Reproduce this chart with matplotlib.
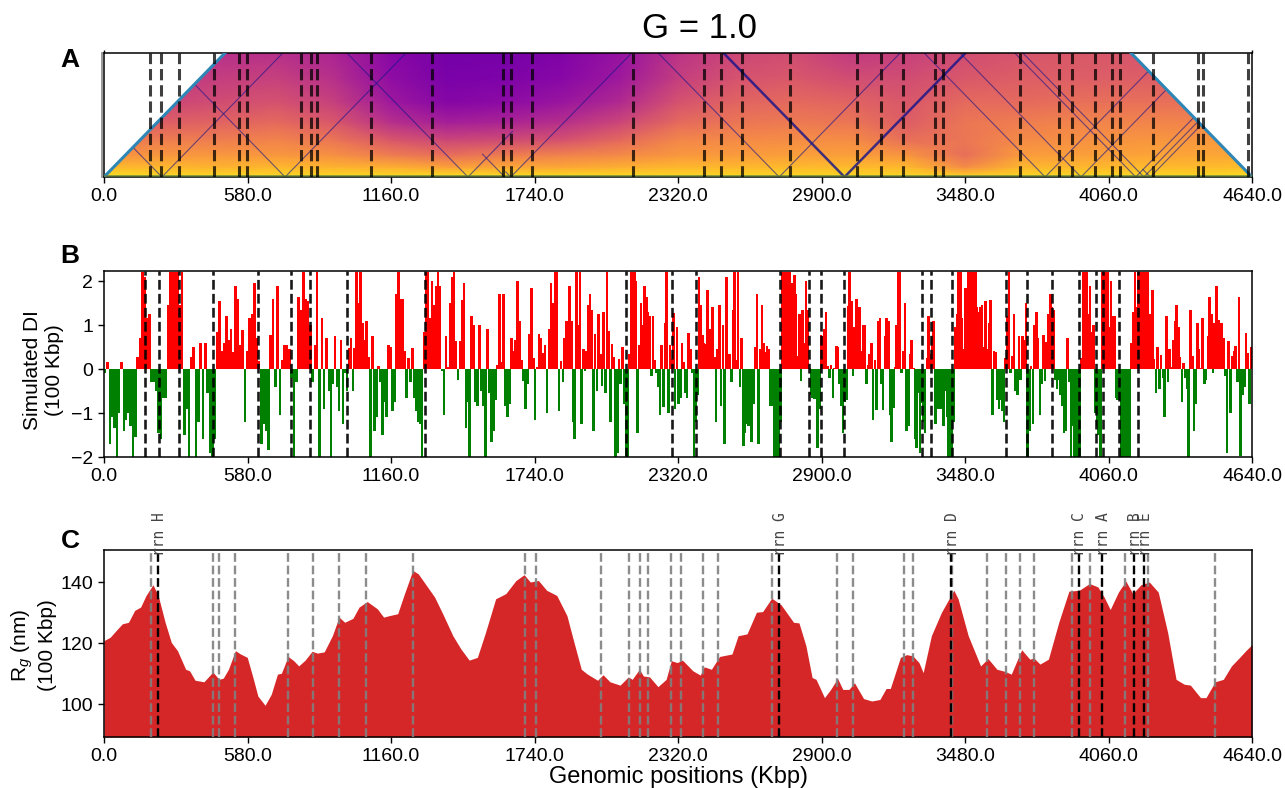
import numpy as np
import matplotlib
matplotlib.use('Agg')
import matplotlib.pyplot as plt
from matplotlib.patches import Polygon

plt.rcParams['font.family'] = ['Liberation Sans', 'DejaVu Sans']
plt.rcParams['mathtext.fontset'] = 'custom'
plt.rcParams['mathtext.rm'] = 'Liberation Sans'
plt.rcParams['mathtext.it'] = 'Liberation Sans:italic'

GENOME = 4640.0
xticks = [0, 580, 1160, 1740, 2320, 2900, 3480, 4060, 4640]
xticklabels = ['0.0', '580.0', '1160.0', '1740.0', '2320.0', '2900.0', '3480.0', '4060.0', '4640.0']

# ---------- Panel A: coarse estimate of the contact map ----------
map_x = [0, 232, 464, 696, 928, 1160, 1392, 1624, 1856, 2088, 2320, 2552, 2784, 3016, 3248, 3480, 3712, 3944, 4176, 4408, 4640]
map_y = [0, 12, 40, 85, 145, 215, 295, 390, 489]
map_v = [
 [.98,.98,.98,.98,.98,.98,.98,.98,.98,.98,.98,.98,.98,.98,.98,.98,.98,.98,.98,.98,.98],
 [.92,.90,.90,.90,.90,.90,.90,.90,.90,.90,.90,.90,.90,.90,.90,.86,.90,.90,.90,.90,.92],
 [.84,.84,.83,.84,.83,.82,.78,.80,.80,.82,.84,.84,.85,.85,.84,.72,.84,.84,.85,.85,.86],
 [.74,.76,.76,.76,.74,.68,.64,.68,.70,.72,.76,.77,.78,.78,.75,.64,.77,.78,.79,.80,.80],
 [.66,.68,.68,.70,.66,.56,.50,.52,.54,.62,.71,.72,.73,.73,.64,.66,.72,.74,.75,.76,.76],
 [.56,.58,.60,.62,.56,.42,.36,.38,.42,.50,.62,.66,.67,.66,.58,.66,.68,.70,.70,.70,.70],
 [.50,.50,.52,.54,.48,.34,.27,.29,.33,.40,.54,.60,.62,.60,.56,.62,.62,.64,.64,.64,.64],
 [.45,.45,.47,.48,.42,.30,.24,.25,.28,.34,.47,.54,.56,.52,.52,.56,.58,.58,.58,.58,.58],
 [.42,.42,.42,.42,.38,.28,.23,.23,.26,.32,.43,.50,.52,.46,.48,.52,.55,.56,.55,.55,.55],
]
map_top = 489.0
map_dashes = [186, 232, 303, 445, 547, 577, 796, 836, 862, 1080, 1326, 1614, 1644, 1731, 2137,
              2426, 2493, 2579, 2774, 3043, 3139, 3231, 3359, 3390, 3703, 3861, 3914, 4007, 4075,
              4107, 4238, 4422, 4441, 4625]
fold_base = [234, 732, 1471, 1620, 1644, 2729, 2993, 3804, 3949, 4170, 4203, 4229]
fold_left = [489, 489, 489, 90, 20, 489, 489, 489, 489, 489, 489, 30]
fold_right = [489, 489, 180, 0, 489, 489, 489, 489, 489, 489, 489, 489]
fold_lw = [.8, .8, .8, .8, .8, .8, 1.8, .8, .8, .8, .8, .8]

# ---------- Panel B: directionality index, one list per stretch of genome ----------
di_bounds = [0.0, 913.5, 1851.0, 2773.0, 3702.0, 4640.0]
di_1 = [-.1,.15,-1.7,-1.1,-1.35,-2,-1.0,.17,-1.4,-1.15,
 -1.0,-1.3,-2,-1.55,.28,.7,2.2,2.1,1.15,1.25,
 -.3,-.3,-.5,-1.45,-1.6,-.65,-.65,1.45,2.2,2.2,
 2.2,2.2,1.45,2.2,-1.5,-.9,-2,.27,.5,-2,
 -1.2,.6,-1.6,.6,-.55,-1.9,-2,-1.6,.85,1.55,
 .42,.6,1.2,.65,.9,.38,1.9,1.6,.55,.88,
 -1.2,.42,1.15,1.25,1.95,.7,.18,-1.7,-1.25,-1.4,
 -1.85,.78,1.6,-.4,1.9,-1.05,.2,.55,.55,.45,
 -.2,-2,-.3,1.65,1.35,2.2,1.6,1.55,1.0,-.3,
 .55,2.2,-2,1.15,-.9,.7,-.5]
di_2 = [-2,-.35,.75,-.4,-.95,.65,-1.25,-.1,-.5,.48,.7,-.5,.47,2.2,1.5,2.2,1.05,.65,1.1,.27,
 -2,.75,-1.4,-1.1,.08,-.3,-1.5,-.75,-1.1,.55,.5,-.95,-.75,1.7,2.2,1.6,1.6,.4,-.65,.25,
 -.3,.47,-.65,-.95,-1.2,-1.25,-2,.85,2.2,2.2,1.15,2.0,1.45,1.9,2.2,1.9,-.05,-1.05,.75,.05,
 1.5,2.1,2.2,.63,-.25,.63,1.57,1.95,-1.35,-.75,-2,1.2,1.0,-.75,-.85,1.0,-.5,-.85,-2,.9,
 -.55,-1.65,-1.4,-.7,.1,1.7,.15,1.7,-.85,-1.1,-.8,.7,.4,.65,2.0,1.1,.2,-.27,-.9,-.35,
 .8,1.85,.25,-1.15,.05,.8,.7,.37,.55,-1.0,.9,1.95,1.5,2.2,2.2,-.95,.18]
di_3 = [-.3,.7,1.1,.75,1.9,1.1,-1.2,-1.6,2.2,1.0,2.2,-1.25,.45,-.05,.42,1.45,1.7,1.35,-1.4,.8,
 -.5,1.25,.35,-.38,1.3,-.55,2.2,.87,-1.2,.58,.28,-2,-1.9,.22,-.35,.5,-.8,-2,-2,.35,
 2.2,2.2,2.2,2.0,-1.45,.55,1.5,1.0,1.9,1.65,1.3,1.2,-.15,1.2,.2,-.1,-.4,-1.05,.55,-.87,
 1.05,2.2,-1.0,.55,.22,1.28,-.9,.95,-.8,-.65,.6,.15,-.55,-.65,.82,.45,-.1,-2,-1.2,-.6,
 2.1,1.45,.78,.6,.58,1.8,.9,.9,1.4,.27,-1.2,.45,1.45,-.85,1.0,-1.7,2.1,.1,.35,-.3,
 1.35,2.2,.2,2.2,-.4,.7,-1.75,-1.45,-1.25,-1.3,-.75,-1.65,-.8,.5,1.7,-1.7,.45,1.45,.6,.38,
 .53,.45,-.85,-.85,-2,-2,-2,-2,-1.2,2.2,2.2,2.2,2.2,2.2]
di_4 = [1.8,1.95,2.15,1.7,.3,1.25,-.27,1.35,.6,2.0,1.35,.02,-.6,-.65,-.67,-.3,-1.8,-.9,.78,.75,
 .9,1.3,.08,-.2,.1,-.65,.02,.52,.5,-.35,-.85,-1.45,-.75,-.7,1.43,2.2,1.55,-.15,.95,1.6,
 .3,1.4,.4,1.0,1.0,-.35,.1,.35,.6,-1.15,.2,-.93,1.1,1.15,-.35,-.93,.75,1.15,1.1,-1.05,
 -1.65,-.88,.05,1.0,2.2,2.2,-.1,.4,1.5,-1.4,-1.3,.35,.67,.02,-1.6,-1.8,-.55,-1.9,-.78,-1.2,
 -1.45,.25,1.2,.35,.7,1.1,-1.25,-.9,-.9,-.9,-.9,-1.3,-.5,-1.1,-2,-2,-2,-1.2,.95,1.25,
 2.2,2.2,1.15,.45,1.85,1.55,2.2,2.2,1.6,2.2,2.2,1.4,1.3,1.4,1.45,.5,1.55,.45,1.05,1.57,
 -1.05,.4,.38,-.7,-.9,-.7,-.95,-1.2,.25,1.2,2.2,-.1,.3,1.25,-.5,-.6,.75]
di_5 = [-.25,.75,.65,1.5,-2,-1.4,.07,-1.25,1.0,1.3,.7,-1.05,-.35,.78,-.27,.62,1.25,1.7,1.4,1.35,
 -.25,-.45,-.25,-.6,-.85,-1.45,-1.4,.7,-.3,-2,-1.3,-2,-2,-1.35,-2,.25,2.2,2.2,2.2,1.25,
 1.9,.85,1.0,-1.0,-1.3,-1.5,-2,2.2,2.2,2.2,2.2,.95,2.0,1.2,1.2,-.65,-.7,-.7,-2,-2,
 -2,-2,-2,-2,.6,1.3,2.2,1.4,2.2,2.2,2.2,2.2,2.2,2.2,1.2,1.25,1.8,.22,-.55,.5,
 -.45,.33,-.2,-1.1,1.2,-.3,.45,.05,.65,1.1,1.45,.95,.28,-.75,.13,-.2,-.45,-2,1.35,.3,
 -1.4,-.8,1.05,.45,.02,1.15,-.35,-.25,.75,1.65,1.25,-.1,1.05,1.9,1.12,.55,1.05,.7,-.15,-1.9,
 .63,-1.0,.3,.42,.53,-.3,1.65,-1.98,-.6,-.4,.83,.37,-.8,.5]
di_dashes = [166, 221, 302, 441, 621, 757, 831, 982, 1299, 2111, 2297, 2392, 2732, 2851, 2897,
             2992, 3307, 3342, 3428, 3647, 3731, 3833, 3942, 4008, 4037, 4103, 4178]

# ---------- Panel C: radius of gyration ----------
rg_x = [0,25,49,74,99,124,148,170,198,219,247,272,297,330,346,368,404,440,465,482,503,531,552,579,602,622,651,676,701,717,
 744,767,787,813,841,862,890,923,950,973,1006,1031,1064,1105,1130,1154,1187,1212,1248,1270,1303,1336,1369,1410,1443,1476,
 1509,1542,1583,1624,1665,1698,1723,1756,1789,1830,1871,1896,1929,1954,1995,2017,2045,2086,2119,2135,2164,2180,2205,2239,
 2272,2293,2317,2338,2380,2410,2426,2455,2488,2538,2563,2599,2637,2662,2699,2737,2787,2809,2837,2862,2878,2912,2937,2965,
 2986,3011,3033,3070,3103,3136,3161,3178,3219,3244,3269,3294,3311,3344,3385,3435,3452,3493,3543,3573,3609,3642,3667,3709,
 3742,3758,3783,3817,3859,3900,3942,3983,4017,4042,4067,4100,4130,4158,4191,4225,4261,4299,4333,4366,4391,4432,4454,4491,
 4524,4557,4590,4615,4640]
rg_y = [120.8,121.9,124.1,126.3,126.8,130.7,131.8,135.6,139.1,135.6,126.8,120.2,117.5,111.4,110.9,107.8,107.3,110.5,108.1,108.5,
 111.4,117.5,116.4,115.3,108.7,102.6,99.6,103.2,109.8,110.1,115.6,114.2,112.5,114.4,117.3,116.7,117.1,122.4,128.5,126.8,
 128.1,131.8,133.6,131.2,128.5,129.0,129.6,135.6,143.8,142.7,138.9,135.1,129.6,122.4,118.0,114.4,115.3,123.5,134.5,136.2,
 140.5,142.4,140.0,140.5,137.3,135.6,129.0,121.3,111.4,109.8,107.8,109.6,107.3,106.2,108.9,108.1,111.4,109.2,108.9,105.7,
 108.1,114.2,113.6,114.4,110.9,109.5,112.2,111.4,115.6,116.4,122.4,123.0,130.1,130.3,134.7,132.5,126.8,126.6,119.1,108.7,
 108.1,102.1,104.8,108.4,104.8,104.8,107.0,101.8,101.0,101.5,105.1,105.1,115.3,116.2,115.8,113.6,110.3,122.4,130.1,137.3,
 134.5,122.4,112.5,114.9,111.4,110.7,109.8,117.8,114.7,115.1,113.1,114.7,126.8,137.0,137.3,139.5,138.4,135.1,131.0,136.7,
 140.3,136.2,139.1,140.0,136.7,123.5,108.1,106.5,106.2,102.1,102.1,107.3,108.1,112.5,115.3,117.5,119.5]
rg_grey = [190, 439, 465, 531, 744, 846, 950, 1060, 1248, 1700, 1745, 2008, 2120, 2167, 2199, 2293, 2333,
           2423, 2483, 2699, 2963, 3028, 3234, 3269, 3427, 3568, 3645, 3704, 3759, 3914, 3984, 4128, 4220, 4489]
rrn_pos = [219, 2729, 3424, 3939, 4034, 4163, 4205]
rrn_names = ['rrn H', 'rrn G', 'rrn D', 'rrn C', 'rrn A', 'rrn B', 'rrn E']

# ---------- Figure ----------
W, H = 1285.0, 788.0
fig = plt.figure(figsize=(12.85, 7.88), dpi=100)

def make_axes(top, bottom):
    return fig.add_axes([104 / W, 1 - bottom / H, 1148 / W, (bottom - top) / H])

axA = make_axes(53, 177)
axB = make_axes(271, 457)
axC = make_axes(550, 737)

for ax in (axA, axB, axC):
    ax.set_xlim(0, GENOME)
    ax.set_xticks(xticks)
    ax.set_xticklabels(xticklabels)
    ax.tick_params(axis='both', labelsize=14, length=4, width=1, pad=4)
    for s in ax.spines.values():
        s.set_linewidth(1.1)

# Panel A
axA.set_ylim(0, map_top)
axA.set_yticks([])
trap = Polygon([(0, 0), (map_top, map_top), (GENOME - map_top, map_top), (GENOME, 0)],
               closed=True, transform=axA.transData, facecolor='none', edgecolor='none')
axA.add_patch(trap)
mesh = axA.pcolormesh(map_x, map_y, np.array(map_v), cmap='plasma', vmin=0, vmax=1, shading='gouraud', zorder=1)
mesh.set_clip_path(trap)
for b, l, r, w in zip(fold_base, fold_left, fold_right, fold_lw):
    line, = axA.plot([b - l, b, b + r], [l, 0, r], color='#12128a', lw=w, alpha=.8 if w > 1 else .6, zorder=2)
    line.set_clip_path(trap)
axA.plot([0, map_top], [0, map_top], color='#2d86b5', lw=2.2, zorder=3)
axA.plot([GENOME - map_top, GENOME], [map_top, 0], color='#2d86b5', lw=2.2, zorder=3)
axA.plot([0, GENOME], [4, 4], color='#5a7a40', lw=1.2, alpha=.8, zorder=3)
for x in map_dashes:
    axA.axvline(x, color='k', lw=2.2, ls='--', alpha=.75, zorder=4)
axA.plot([-9, -9], [0, map_top], color='#999999', lw=1.4, clip_on=False, zorder=5)
top_axis = axA.secondary_xaxis('top')
top_axis.set_xticks([0, GENOME])
top_axis.set_xticklabels([])
top_axis.tick_params(length=2, width=1)
top_axis.spines['top'].set_visible(False)

# Panel B
BAR_W = 10.5
for values, x0, x1 in zip([di_1, di_2, di_3, di_4, di_5], di_bounds[:-1], di_bounds[1:]):
    v = np.array(values)
    step = (x1 - x0) / len(v)
    xs = x0 + (np.arange(len(v)) + .5) * step
    axB.bar(xs[v > 0], v[v > 0], width=BAR_W, color='red', linewidth=0, zorder=2)
    axB.bar(xs[v <= 0], v[v <= 0], width=BAR_W, color='green', linewidth=0, zorder=2)
axB.set_ylim(-2, 2.23)
axB.set_yticks([-2, -1, 0, 1, 2])
axB.set_yticklabels(['\u22122', '\u22121', '0', '1', '2'])
for x in di_dashes:
    axB.axvline(x, color='k', lw=1.9, ls='--', alpha=.9, zorder=4)

# Panel C
axC.fill_between(rg_x, rg_y, 89.2, color='#d62728', linewidth=0, zorder=2)
axC.set_ylim(89.2, 150.5)
axC.set_yticks([100, 120, 140])
for x in rg_grey:
    axC.axvline(x, color='#808080', lw=1.7, ls='--', alpha=.9, zorder=4)
for x, name in zip(rrn_pos, rrn_names):
    axC.axvline(x, color='k', lw=1.7, ls='--', zorder=5)
    axC.annotate(name, xy=(x, 1), xycoords=('data', 'axes fraction'), xytext=(1, -4),
                 textcoords='offset points', rotation=90, ha='center', va='bottom',
                 fontsize=10.5, family=['DejaVu Sans Mono'], color='#444444', annotation_clip=False, zorder=6)
axC.set_xlabel('Genomic positions (Kbp)', fontsize=17, labelpad=1)

# Text
fig.text(700 / W, 1 - 28 / H, 'G = 1.0', fontsize=25, ha='center', va='center')
for label, y in zip('ABC', (60, 256, 541)):
    fig.text(70 / W, 1 - y / H, label, fontsize=19, fontweight='bold', ha='center', va='center')
fig.text(44 / W, 1 - 370 / H, 'Simulated DI\n(100 Kbp)', fontsize=15, rotation=90, ha='center', va='center',
         linespacing=1.2, multialignment='center')
fig.text(33 / W, 1 - 645 / H, 'R$_{g}$ (nm)\n(100 Kbp)', fontsize=15, rotation=90, ha='center', va='center',
         linespacing=1.2, multialignment='center')

fig.savefig('out.png', dpi=100)
